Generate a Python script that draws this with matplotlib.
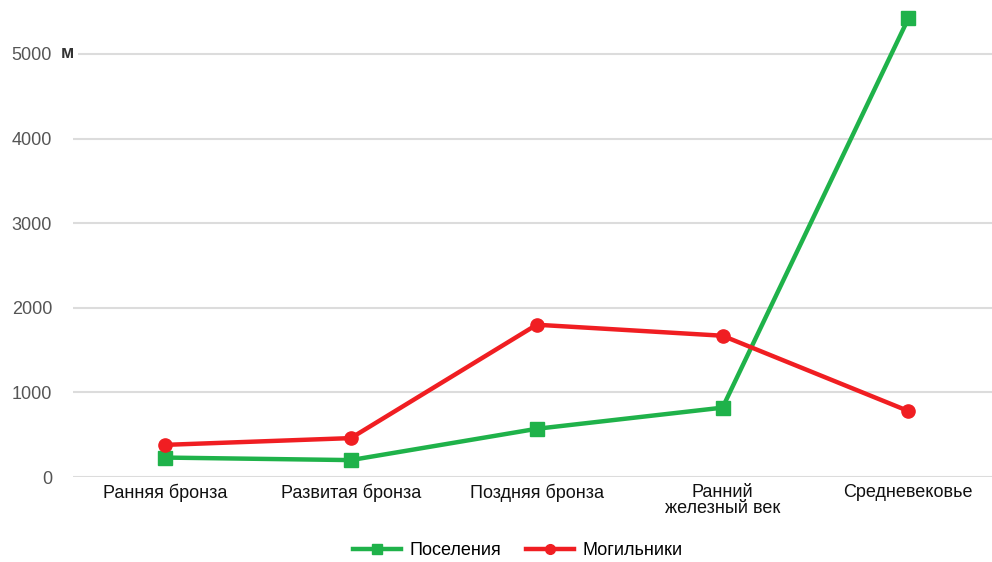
import matplotlib
matplotlib.use("Agg")
import matplotlib.pyplot as plt
from matplotlib.lines import Line2D

plt.rcParams['font.family'] = ['Liberation Sans', 'DejaVu Sans']

# Periods and site counts
periods = ["Ранняя бронза", "Развитая бронза", "Поздняя бронза",
           "Ранний\nжелезный век", "Средневековье"]
settlements = [230, 200, 570, 820, 5420]
burials = [380, 460, 1800, 1670, 780]
yticks = [0, 1000, 2000, 3000, 4000, 5000]

green = "#1fb24a"
red = "#f01e22"

fig = plt.figure(figsize=(9.92, 5.62), dpi=100)
ax = fig.add_axes([0.0736, 0.1512, 0.9264, 0.8488])

x = list(range(len(periods)))
ax.plot(x, settlements, color=green, lw=3.2, marker="s", ms=9.5,
        clip_on=False, zorder=3, label="Поселения")
ax.plot(x, burials, color=red, lw=3.2, marker="o", ms=9.5,
        clip_on=False, zorder=3, label="Могильники")

ax.set_xlim(-0.495, 4.45)
ax.set_ylim(0, 5638)
ax.set_yticks(yticks)
ax.set_yticklabels([str(v) for v in yticks], color="#555555", fontsize=13)
ax.yaxis.grid(True, color="#dcdcdc", lw=1.5)
ax.set_axisbelow(True)
ax.set_xticks(x)
ax.set_xticklabels(periods, fontsize=13, color="#111111", linespacing=0.95)
ax.tick_params(axis="y", length=0, pad=15)
ax.tick_params(axis="x", length=0, pad=5)
for s in ax.spines.values():
    s.set_visible(False)

# unit label beside the top tick
fig.text(61 / 992, 0.904, "м", fontsize=13, fontweight="bold", color="#333333",
         va="center", ha="left",
         bbox=dict(facecolor="white", edgecolor="none", pad=3))

handles = [Line2D([], [], color=green, lw=3.2, marker="s", ms=7),
           Line2D([], [], color=red, lw=3.2, marker="o", ms=7)]
fig.legend(handles, ["Поселения", "Могильники"], loc="center",
           bbox_to_anchor=(0.522, 0.02), ncol=2, frameon=False,
           fontsize=13, handlelength=2.65, columnspacing=1.4, handletextpad=0.45)

fig.savefig("out.png", dpi=100)
